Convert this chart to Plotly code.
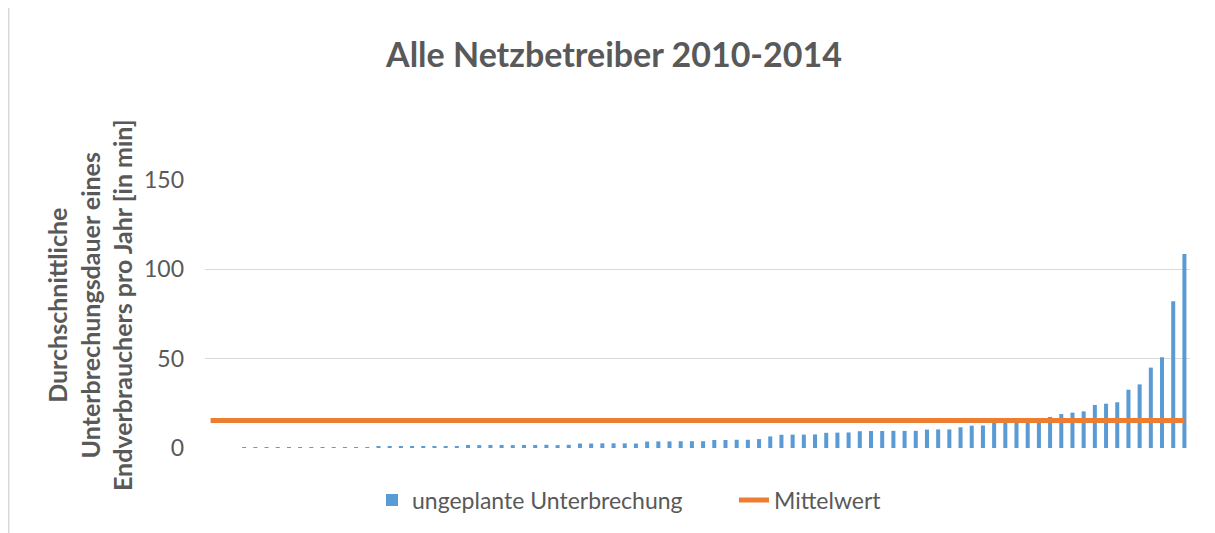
import plotly.graph_objects as go

# ---- data ----
operators = [f"NB {i+1}" for i in range(88)]
unplanned = [
    0, 0, 0,
    0.3, 0.3, 0.3, 0.4, 0.4, 0.4, 0.4, 0.5, 0.5, 0.5, 0.5, 0.5, 0.6, 0.6, 0.6, 0.6, 0.7, 0.7, 0.7, 0.8,
    1.7, 1.6, 1.7, 1.7, 1.6, 1.7, 1.7, 1.8, 1.6, 1.8,
    2.5, 2.5, 2.6, 2.6, 2.6, 2.5,
    3.6, 3.7, 3.7, 3.8, 3.8, 3.8,
    4.5, 4.5, 4.6, 4.6,
    5.0,
    6.5,
    7.4, 7.5, 7.5, 7.6,
    8.5, 8.6, 8.7,
    9.4, 9.5, 9.5, 9.6, 9.6, 9.6,
    10.3, 10.4, 10.4,
    11.6,
    12.5, 12.6,
    14.0,
    14.6, 15.0, 15.3, 15.6,
    17.4,
    19.0, 19.8, 20.5, 24.1, 24.8, 25.6, 32.6, 35.6, 45.0, 50.8, 82.1, 108.6,
]
mittelwert = 15.4
y_ticks = [0, 50, 100, 150]

title_text = "Alle Netzbetreiber 2010-2014"
y_title = "Durchschnittliche<br>Unterbrechungsdauer eines<br>Endverbrauchers pro Jahr [in min]"

BLUE = "#5B9BD5"
ORANGE = "#ED7D31"
GREY = "#595959"
FONT = "Lato"

fig = go.Figure()
fig.add_trace(go.Bar(
    x=operators, y=unplanned, name="ungeplante Unterbrechung",
    marker=dict(color=BLUE, line=dict(width=0)), legend="legend",
))
fig.add_trace(go.Scatter(
    x=operators, y=[mittelwert] * len(operators), name="Mittelwert",
    mode="lines", line=dict(color=ORANGE, width=5), legend="legend2",
))

# page has an 8px body margin: figure origin sits at page (8, 8)
OFF = 8
W, H = 1215 - OFF, 533 - OFF
L, T = 205 - OFF, 180 - OFF
R = W - (1190 - OFF)
B = H - (448 - OFF)
PW, PH = W - L - R, H - T - B


def px_x(page_x):
    return (page_x - OFF - L) / PW


def px_y(page_y):
    return ((448 - OFF) - (page_y - OFF)) / PH


legend_font = dict(family=FONT, size=23, color=GREY)

fig.update_layout(
    width=W, height=H, autosize=False,
    margin=dict(l=L, r=R, t=T, b=B, autoexpand=False),
    paper_bgcolor="white", plot_bgcolor="white",
    bargap=0.64,
    font=dict(family=FONT, color=GREY),
    title=dict(text=f"<b>{title_text}</b>", x=(614 - OFF) / W, xanchor="center",
               y=1 - (55 - OFF) / H, yanchor="middle",
               font=dict(family=FONT, size=34, color=GREY)),
    showlegend=True,
    legend=dict(orientation="h", x=px_x(372), xanchor="left",
                y=px_y(500), yanchor="middle", font=legend_font),
    legend2=dict(orientation="h", x=px_x(734), xanchor="left",
                 y=px_y(500), yanchor="middle", font=legend_font),
    xaxis=dict(showticklabels=False, showgrid=False, zeroline=False,
               showline=False, ticks="", range=[-0.5, len(operators) - 0.5]),
    yaxis=dict(range=[0, 150], tickvals=y_ticks, showgrid=True,
               gridcolor="#D9D9D9", gridwidth=1, zeroline=False, showline=False,
               ticks="", ticklabelstandoff=20,
               tickfont=dict(family=FONT, size=23, color=GREY)),
)

fig.add_annotation(
    text=f"<b>{y_title}</b>", textangle=-90,
    xref="paper", yref="paper",
    x=px_x(89), y=px_y(305),
    xanchor="center", yanchor="middle", showarrow=False,
    font=dict(family=FONT, size=25, color=GREY),
)

fig.add_shape(type="line", xref="paper", yref="paper",
              x0=px_x(8.5), x1=px_x(8.5),
              y0=-B / PH, y1=1 + T / PH,
              line=dict(color="#D9D9D9", width=2))

fig.write_html("out.html")
